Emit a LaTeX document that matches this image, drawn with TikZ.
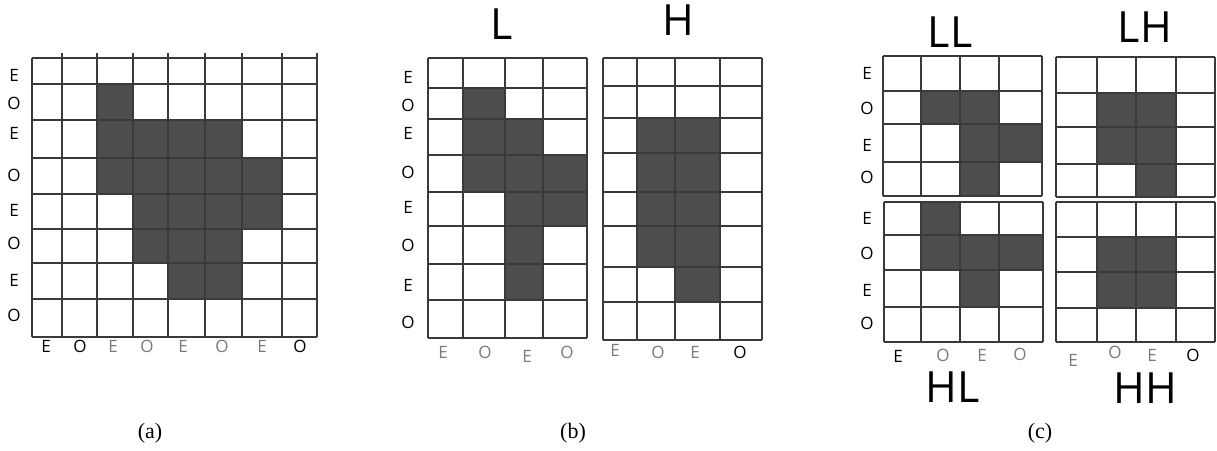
\documentclass[tikz,border=0pt]{standalone}
\usepackage{fontspec}
\setmainfont{Liberation Serif}
\newfontfamily\lblfont{Open Sans}
\usetikzlibrary{positioning}
\definecolor{cellfill}{HTML}{4D4D4D}
\definecolor{gridline}{HTML}{3A3A3A}
\definecolor{lblgray}{HTML}{7A7A7A}

\tikzset{
  gridln/.style={line width=1.1pt, gridline},
  eo/.style={font=\lblfont\fontsize{17}{17}\selectfont, inner sep=0pt},
  band/.style={font=\lblfont\fontsize{43}{43}\selectfont, inner sep=0pt},
  capt/.style={font=\fontsize{22}{22}\selectfont, inner sep=0pt}
}

% grid: x lines, y lines, filled cells (col/row), #cols, #rows
\newcommand{\wavgrid}[5]{%
  \foreach \c/\r in {#3}{
    \pgfmathsetmacro\xl{{#1}[\c]}
    \pgfmathsetmacro\xr{{#1}[\c+1]}
    \pgfmathsetmacro\yt{{#2}[\r]}
    \pgfmathsetmacro\yb{{#2}[\r+1]}
    \fill[cellfill] (\xl,\yt) rectangle (\xr,\yb);
  }
  \pgfmathsetmacro\xs{{#1}[0]}
  \pgfmathsetmacro\xe{{#1}[#4]}
  \pgfmathsetmacro\ys{{#2}[0]}
  \pgfmathsetmacro\ye{{#2}[#5]}
  \foreach \x in {#1} \draw[gridln] (\x,\ys) -- (\x,\ye);
  \foreach \y in {#2} \draw[gridln] (\xs,\y) -- (\xe,\y);
}

\begin{document}
\begin{tikzpicture}[x=1pt, y=-1pt]
  \useasboundingbox (0,0) rectangle (1217,450);
  % (a) full image
  \wavgrid{32,62,97,133,168,205,242,282,317}{58,84,120,158,194,229,263,299,337}%
    {2/1, 2/2,3/2,4/2,5/2, 2/3,3/3,4/3,5/3,6/3, 3/4,4/4,5/4,6/4, 3/5,4/5,5/5, 4/6,5/6}{8}{8}
  \foreach \x in {62,97,133,168,205,242,282,317}
    \draw[gridln] (\x,53) -- (\x,58);
  \foreach \y [count=\i] in {75,103,133,175,210,243,280,315}
    \node[eo] (la\i) at (14,\y) {\ifodd\i E\else O\fi};
  \foreach \x/\t/\cl [count=\i] in {46/E/black, 80/O/black, 113/E/lblgray, 147/O/lblgray,
      183/E/lblgray, 222/O/lblgray, 262/E/lblgray, 300/O/black}
    \node[eo, text=\cl] (ba\i) at (\x,346) {\t};
  \node[capt] (capa) at (150,433) {(a)};

  % (b) L and H bands
  \wavgrid{428,463,505,543,587}{58,88,119,155,192,226,264,300,338}%
    {1/1, 1/2,2/2, 1/3,2/3,3/3, 2/4,3/4, 2/5, 2/6}{4}{8}
  \wavgrid{603,637,675,720,762}{58,86,118,153,192,226,267,302,340}%
    {1/2,2/2, 1/3,2/3, 1/4,2/4, 1/5,2/5, 2/6}{4}{8}
  \node[band] (tl) at (502,24) {L};
  \node[band] (th) at (678,20) {H};
  \foreach \y [count=\i] in {77,105,133,172,207,245,285,322}
    \node[eo] (lb\i) at (408,\y) {\ifodd\i E\else O\fi};
  \foreach \x/\y/\t/\cl [count=\i] in {443/352/E/lblgray, 485/352/O/lblgray, 527/356/E/lblgray,
      567/352/O/lblgray, 615/350/E/lblgray, 658/352/O/lblgray, 695/352/E/lblgray, 740/352/O/black}
    \node[eo, text=\cl] (bb\i) at (\x,\y) {\t};
  \node[capt] (capb) at (573,433) {(b)};

  % (c) LL, LH, HL, HH bands
  \wavgrid{883,921,960,999,1042}{56,91,124,162,196}{1/1,2/1, 2/2,3/2, 2/3}{4}{4}
  \wavgrid{1056,1097,1136,1176,1215}{57,93,127,164,197}{1/1,2/1, 1/2,2/2, 2/3}{4}{4}
  \wavgrid{884,921,960,999,1043}{202,235,270,307,342}{1/0, 1/1,2/1,3/1, 2/2}{4}{4}
  \wavgrid{1056,1097,1136,1176,1215}{202,237,272,308,342}{1/1,2/1, 1/2,2/2}{4}{4}
  \node[band] (tll) at (950,32) {LL};
  \node[band] (tlh) at (1145,27) {LH};
  \node[band] (thl) at (953,387) {HL};
  \node[band] (thh) at (1145,388) {HH};
  \foreach \y [count=\i] in {73,108,145,177,218,253,290,323}
    \node[eo] (lc\i) at (867,\y) {\ifodd\i E\else O\fi};
  \foreach \x/\y/\t/\cl [count=\i] in {898/356/E/black, 943/355/O/lblgray, 982/355/E/lblgray,
      1020/354/O/lblgray, 1073/360/E/lblgray, 1115/352/O/lblgray, 1152/355/E/lblgray, 1193/355/O/black}
    \node[eo, text=\cl] (bc\i) at (\x,\y) {\t};
  \node[capt] (capc) at (1040,433) {(c)};
\end{tikzpicture}
\end{document}
